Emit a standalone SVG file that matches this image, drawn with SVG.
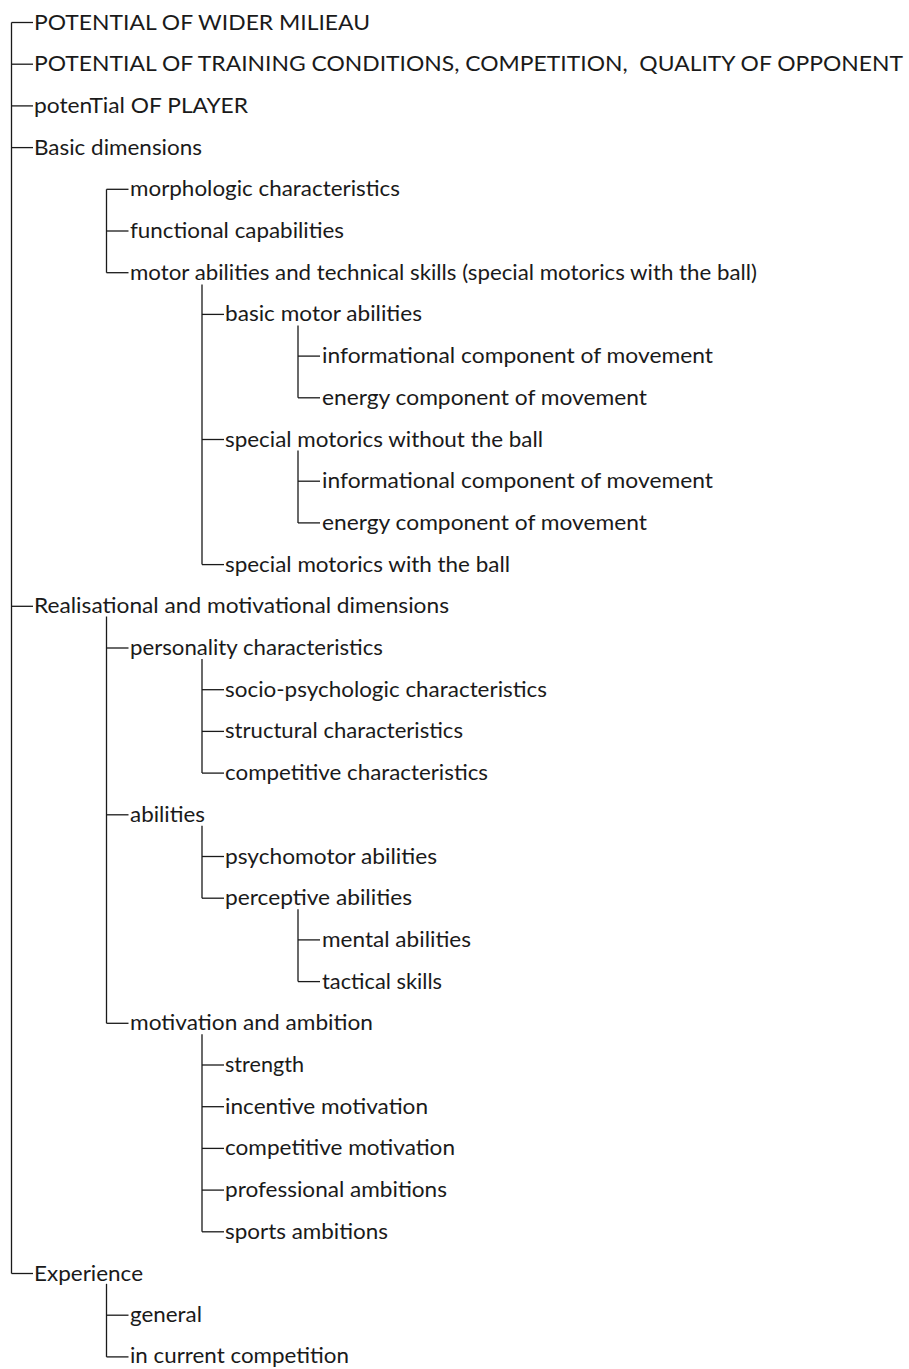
<svg xmlns="http://www.w3.org/2000/svg" width="909" height="1369" viewBox="0 0 909 1369">
<style>
text{font-family:Lato,"Open Sans","Liberation Sans",sans-serif;font-size:22px;fill:#1a1a1a}
.c line{stroke:#1a1a1a;stroke-width:1.3;fill:none}
</style>
<rect width="909" height="1369" fill="#fff"/>
<g class="c" id="connectors">
<line x1="11.5" y1="22.5" x2="11.5" y2="1273.5"/>
<line x1="11.5" y1="22.5" x2="33" y2="22.5"/>
<line x1="11.5" y1="64.2" x2="33" y2="64.2"/>
<line x1="11.5" y1="105.9" x2="33" y2="105.9"/>
<line x1="11.5" y1="147.6" x2="33" y2="147.6"/>
<line x1="11.5" y1="606.3" x2="33" y2="606.3"/>
<line x1="11.5" y1="1273.5" x2="33" y2="1273.5"/>
<line x1="106.5" y1="189.3" x2="106.5" y2="272.7"/>
<line x1="106.5" y1="189.3" x2="128.5" y2="189.3"/>
<line x1="106.5" y1="231" x2="128.5" y2="231"/>
<line x1="106.5" y1="272.7" x2="128.5" y2="272.7"/>
<line x1="202" y1="284.5" x2="202" y2="564.6"/>
<line x1="202" y1="314.4" x2="224" y2="314.4"/>
<line x1="202" y1="439.5" x2="224" y2="439.5"/>
<line x1="202" y1="564.6" x2="224" y2="564.6"/>
<line x1="298" y1="325.4" x2="298" y2="397.8"/>
<line x1="298" y1="356.1" x2="320" y2="356.1"/>
<line x1="298" y1="397.8" x2="320" y2="397.8"/>
<line x1="298" y1="450.5" x2="298" y2="522.9"/>
<line x1="298" y1="481.2" x2="320" y2="481.2"/>
<line x1="298" y1="522.9" x2="320" y2="522.9"/>
<line x1="106.5" y1="616.5" x2="106.5" y2="1023.3"/>
<line x1="106.5" y1="648" x2="128.5" y2="648"/>
<line x1="106.5" y1="814.8" x2="128.5" y2="814.8"/>
<line x1="106.5" y1="1023.3" x2="128.5" y2="1023.3"/>
<line x1="202" y1="659" x2="202" y2="773.1"/>
<line x1="202" y1="689.7" x2="224" y2="689.7"/>
<line x1="202" y1="731.4" x2="224" y2="731.4"/>
<line x1="202" y1="773.1" x2="224" y2="773.1"/>
<line x1="202" y1="825.8" x2="202" y2="898.2"/>
<line x1="202" y1="856.5" x2="224" y2="856.5"/>
<line x1="202" y1="898.2" x2="224" y2="898.2"/>
<line x1="298" y1="909.2" x2="298" y2="981.6"/>
<line x1="298" y1="939.9" x2="320" y2="939.9"/>
<line x1="298" y1="981.6" x2="320" y2="981.6"/>
<line x1="202" y1="1034.3" x2="202" y2="1231.8"/>
<line x1="202" y1="1065" x2="224" y2="1065"/>
<line x1="202" y1="1106.7" x2="224" y2="1106.7"/>
<line x1="202" y1="1148.4" x2="224" y2="1148.4"/>
<line x1="202" y1="1190.1" x2="224" y2="1190.1"/>
<line x1="202" y1="1231.8" x2="224" y2="1231.8"/>
<line x1="106.5" y1="1283.8" x2="106.5" y2="1356.9"/>
<line x1="106.5" y1="1315.2" x2="128.5" y2="1315.2"/>
<line x1="106.5" y1="1356.9" x2="128.5" y2="1356.9"/>
</g>
<g id="n0"><text x="34" y="29.5" textLength="336" lengthAdjust="spacingAndGlyphs">POTENTIAL OF WIDER MILIEAU</text></g>
<g id="n1"><text x="34" y="71.2" xml:space="preserve" textLength="869" lengthAdjust="spacingAndGlyphs">POTENTIAL OF TRAINING CONDITIONS, COMPETITION,  QUALITY OF OPPONENT</text></g>
<g id="n2"><text x="34" y="112.9" textLength="214" lengthAdjust="spacingAndGlyphs">potenTial OF PLAYER</text></g>
<g id="n3"><text x="34" y="154.6" textLength="168" lengthAdjust="spacingAndGlyphs">Basic dimensions</text></g>
<g id="n4"><text x="130" y="196.3" textLength="270" lengthAdjust="spacingAndGlyphs">morphologic characteristics</text></g>
<g id="n5"><text x="130" y="238" textLength="214" lengthAdjust="spacingAndGlyphs">functional capabilities</text></g>
<g id="n6"><text x="130" y="279.7" textLength="627" lengthAdjust="spacingAndGlyphs">motor abilities and technical skills (special motorics with the ball)</text></g>
<g id="n7"><text x="225" y="321.4" textLength="197" lengthAdjust="spacingAndGlyphs">basic motor abilities</text></g>
<g id="n8"><text x="322" y="363.1" textLength="391" lengthAdjust="spacingAndGlyphs">informational component of movement</text></g>
<g id="n9"><text x="322" y="404.8" textLength="325" lengthAdjust="spacingAndGlyphs">energy component of movement</text></g>
<g id="n10"><text x="225" y="446.5" textLength="318" lengthAdjust="spacingAndGlyphs">special motorics without the ball</text></g>
<g id="n11"><text x="322" y="488.2" textLength="391" lengthAdjust="spacingAndGlyphs">informational component of movement</text></g>
<g id="n12"><text x="322" y="529.9" textLength="325" lengthAdjust="spacingAndGlyphs">energy component of movement</text></g>
<g id="n13"><text x="225" y="571.6" textLength="285" lengthAdjust="spacingAndGlyphs">special motorics with the ball</text></g>
<g id="n14"><text x="34" y="613.3" textLength="415" lengthAdjust="spacingAndGlyphs">Realisational and motivational dimensions</text></g>
<g id="n15"><text x="130" y="655" textLength="253" lengthAdjust="spacingAndGlyphs">personality characteristics</text></g>
<g id="n16"><text x="225" y="696.7" textLength="322" lengthAdjust="spacingAndGlyphs">socio-psychologic characteristics</text></g>
<g id="n17"><text x="225" y="738.4" textLength="238" lengthAdjust="spacingAndGlyphs">structural characteristics</text></g>
<g id="n18"><text x="225" y="780.1" textLength="263" lengthAdjust="spacingAndGlyphs">competitive characteristics</text></g>
<g id="n19"><text x="130" y="821.8" textLength="75" lengthAdjust="spacingAndGlyphs">abilities</text></g>
<g id="n20"><text x="225" y="863.5" textLength="212" lengthAdjust="spacingAndGlyphs">psychomotor abilities</text></g>
<g id="n21"><text x="225" y="905.2" textLength="187" lengthAdjust="spacingAndGlyphs">perceptive abilities</text></g>
<g id="n22"><text x="322" y="946.9" textLength="149" lengthAdjust="spacingAndGlyphs">mental abilities</text></g>
<g id="n23"><text x="322" y="988.6" textLength="120" lengthAdjust="spacingAndGlyphs">tactical skills</text></g>
<g id="n24"><text x="130" y="1030.3" textLength="243" lengthAdjust="spacingAndGlyphs">motivation and ambition</text></g>
<g id="n25"><text x="225" y="1072" textLength="79" lengthAdjust="spacingAndGlyphs">strength</text></g>
<g id="n26"><text x="225" y="1113.7" textLength="203" lengthAdjust="spacingAndGlyphs">incentive motivation</text></g>
<g id="n27"><text x="225" y="1155.4" textLength="230" lengthAdjust="spacingAndGlyphs">competitive motivation</text></g>
<g id="n28"><text x="225" y="1197.1" textLength="222" lengthAdjust="spacingAndGlyphs">professional ambitions</text></g>
<g id="n29"><text x="225" y="1238.8" textLength="163" lengthAdjust="spacingAndGlyphs">sports ambitions</text></g>
<g id="n30"><text x="34" y="1280.5" textLength="109" lengthAdjust="spacingAndGlyphs">Experience</text></g>
<g id="n31"><text x="130" y="1322.2" textLength="72" lengthAdjust="spacingAndGlyphs">general</text></g>
<g id="n32"><text x="130" y="1363.4" textLength="219" lengthAdjust="spacingAndGlyphs">in current competition</text></g>
</svg>
